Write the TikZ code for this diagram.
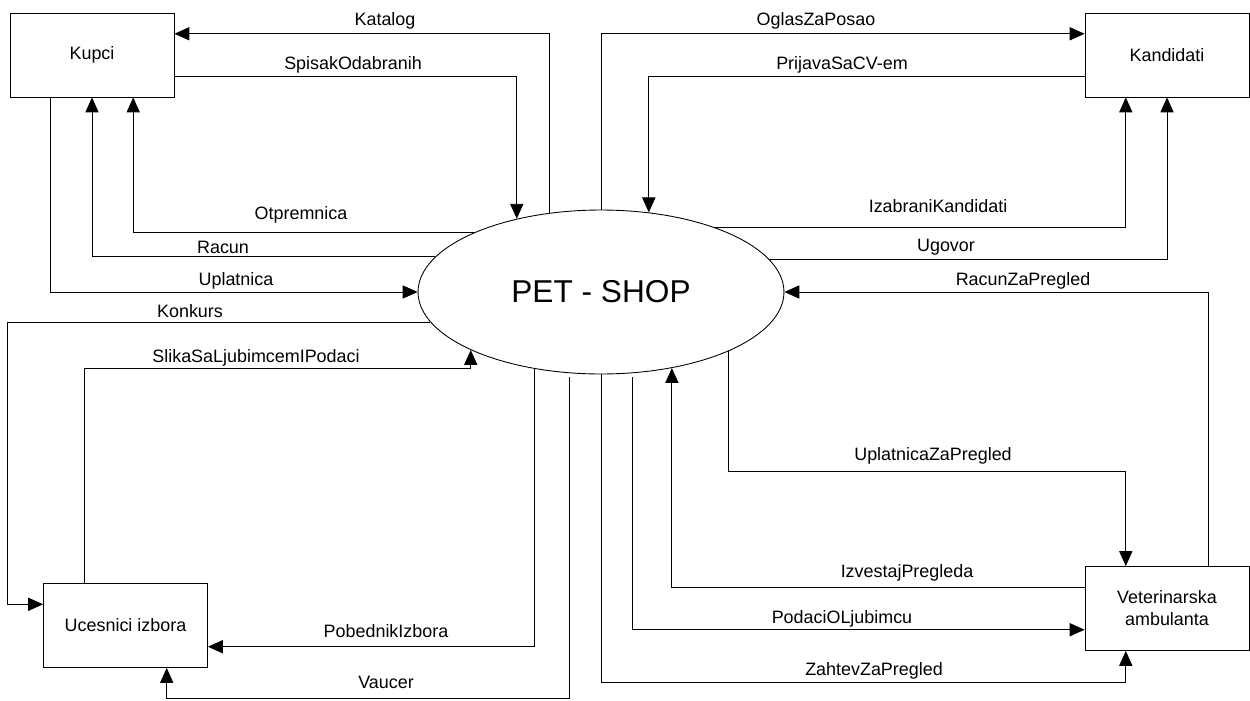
\documentclass[tikz,border=0pt]{standalone}
\usepackage{fontspec}
\setmainfont{Liberation Sans}
\usetikzlibrary{arrows.meta,calc,shapes.geometric}

\begin{document}
\begin{tikzpicture}[x=0.02cm,y=-0.02cm,
        entity/.style={draw,line width=0.5pt,minimum width=3.28cm,minimum height=1.68cm,inner sep=0pt,align=center,font=\fontsize{10.2}{12.5}\selectfont},
        process/.style={draw,ellipse,line width=0.5pt,minimum width=7.32cm,minimum height=3.28cm,inner sep=0pt,font=\fontsize{18}{20}\selectfont},
        flow/.style={line width=0.5pt,-{Triangle[length=8.5pt,width=7.5pt]}},
        lbl/.style={anchor=base,inner sep=0pt,font=\fontsize{10.2}{12}\selectfont}]
                \useasboundingbox (0,0) rectangle (1250,700);

                \node[entity] (kupci) at (92,55) {Kupci};
                \node[entity] (kand) at (1167,55) {Kandidati};
                \node[entity] (uces) at (125.5,625.5) {Ucesnici izbora};
                \node[entity] (vet) at (1167,608.5) {Veterinarska\\ambulanta};
                \node[process] (shop) at (601,292) {PET - SHOP};

                \draw[flow] (shop.123.5) |- ($(kupci.north east)!.25!(kupci.south east)$);
                \draw[flow] ($(kupci.north east)!.75!(kupci.south east)$) -| (shop.139.5);
                \draw[flow] (shop.155.9) -| ($(kupci.south west)!.75!(kupci.south east)$);
                \draw[flow] (shop.168.9) -| (kupci.south);
                \draw[flow] ($(kupci.south west)!.25!(kupci.south east)$) |- (shop.west);

                \draw[flow] (shop.190.75) -- ++(-422.5,0) |- ($(uces.north west)!.25!(uces.south west)$);
                \draw[flow] ($(uces.north west)!.25!(uces.north east)$) -- ++(0,-214.5) -| (shop.204.3);
                \draw[flow] (shop.229.7) |- ($(uces.north east)!.75!(uces.south east)$);
                \draw[flow,shorten <=0.08cm] (shop.249) -- ++(0,325.5) -| ($(uces.south west)!.75!(uces.south east)$);

                \draw[flow] (shop.north) |- ($(kand.north west)!.25!(kand.south west)$);
                \draw[flow] ($(kand.north west)!.75!(kand.south west)$) -| (shop.59.9);
                \draw[flow] (shop.30.2) -| ($(kand.south west)!.25!(kand.south east)$);
                \draw[flow] (shop.11.1) -| (kand.south);

                \draw[flow] ($(vet.north west)!.75!(vet.north east)$) |- (shop.east);
                \draw[flow] (shop.335.7) -- ++(0,120) -| ($(vet.north west)!.25!(vet.north east)$);
                \draw[flow] ($(vet.north west)!.25!(vet.south west)$) -| (shop.313.2);
                \draw[flow,shorten <=0.08cm] (shop.291.6) |- ($(vet.north west)!.75!(vet.south west)$);
                \draw[flow] (shop.south) -- ++(0,308) -| ($(vet.south west)!.25!(vet.south east)$);

                \node[lbl] (katalog) at (385,25) {Katalog};
                \node[lbl] (spisak) at (353,69) {SpisakOdabranih};
                \node[lbl] (otpremnica) at (301,219) {Otpremnica};
                \node[lbl] (racun) at (223,253) {Racun};
                \node[lbl] (uplatnica) at (236,285) {Uplatnica};
                \node[lbl] (konkurs) at (190,317) {Konkurs};
                \node[lbl] (slika) at (256,362) {SlikaSaLjubimcemIPodaci};
                \node[lbl] (pobednik) at (386,637) {PobednikIzbora};
                \node[lbl] (vaucer) at (386,688) {Vaucer};

                \node[lbl] (oglas) at (816,25) {OglasZaPosao};
                \node[lbl] (prijava) at (842,69) {PrijavaSaCV-em};
                \node[lbl] (izabrani) at (938,212) {IzabraniKandidati};
                \node[lbl] (ugovor) at (946,251) {Ugovor};
                \node[lbl] (racunpregled) at (1023,285) {RacunZaPregled};
                \node[lbl] (uplatnicapregled) at (933,460) {UplatnicaZaPregled};
                \node[lbl] (izvestaj) at (907,577) {IzvestajPregleda};
                \node[lbl] (podaci) at (842,623) {PodaciOLjubimcu};
                \node[lbl] (zahtev) at (874,675) {ZahtevZaPregled};
            \end{tikzpicture}
\end{document}
